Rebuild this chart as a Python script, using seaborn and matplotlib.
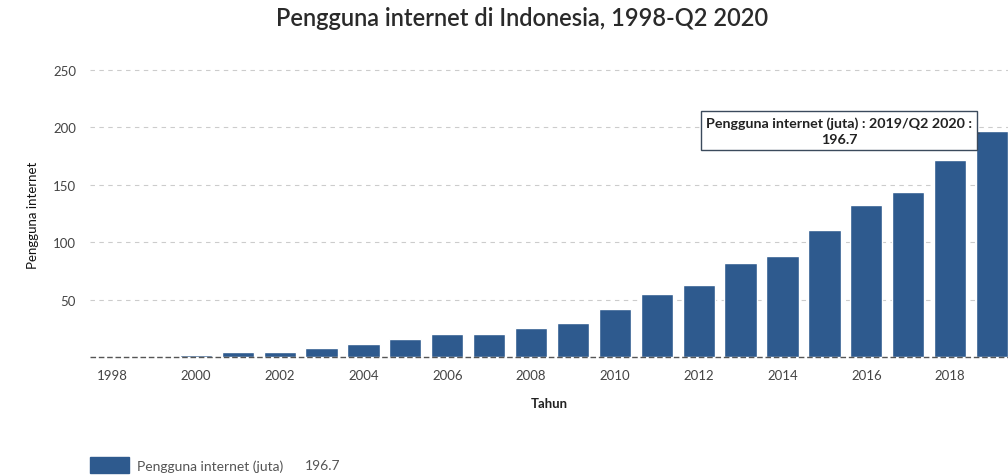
import matplotlib
matplotlib.use("Agg")
import matplotlib.pyplot as plt
import seaborn as sns
import pandas as pd
from matplotlib.patches import Patch

years = [1998, 1999, 2000, 2001, 2002, 2003, 2004, 2005, 2006, 2007, 2008,
         2009, 2010, 2011, 2012, 2013, 2014, 2015, 2016, 2017, 2018, 2019]
users = [0.5, 1.0, 2.0, 4.2, 4.5, 8.0, 11.2, 16.0, 20.0, 20.0, 25.0,
         30.0, 42.0, 55.0, 63.0, 82.0, 88.1, 110.2, 132.7, 143.3, 171.2, 196.7]
yticks = [50, 100, 150, 200, 250]
title = "Pengguna internet di Indonesia, 1998-Q2 2020"
ylabel = "Pengguna internet"
xlabel = "Tahun"
series_name = "Pengguna internet (juta)"
tooltip = "Pengguna internet (juta) : 2019/Q2 2020 :\n196.7"

BAR = "#2e5a8e"

sns.set_theme(style="white")
plt.rcParams['font.family'] = ['Lato', 'DejaVu Sans']

df = pd.DataFrame({"Tahun": [str(y) for y in years], "users": users})

fig = plt.figure(figsize=(10.08, 4.77), dpi=100)
W, H = 1008, 477
left, right = 90 / W, 1.0
bottom_px, top_px = 358, 59.5
ax = fig.add_axes([left, 1 - bottom_px / H, right - left, (bottom_px - top_px) / H])

sns.barplot(data=df, x="Tahun", y="users", color=BAR, width=0.77,
            saturation=1, ax=ax, zorder=3)

ax.set_xlim(-0.525, 21.38)
ax.set_ylim(0, 260)
ax.set_yticks(yticks)
ax.set_yticklabels([str(v) for v in yticks], fontsize=9.5, color="#444444")
xt = list(range(0, len(years), 2))
ax.set_xticks(xt)
ax.set_xticklabels([str(years[i]) for i in xt], fontsize=9.5, color="#444444")
ax.tick_params(axis="x", length=0, pad=9)
ax.tick_params(axis="y", length=0, pad=10)

for v in yticks:
    ax.axhline(v, color="#cccccc", lw=0.8, ls=(0, (4, 4)), zorder=1)

for s in ["top", "right", "left", "bottom"]:
    ax.spines[s].set_visible(False)
ax.axhline(0, color="#555555", lw=1.0, ls=(0, (4, 2)), zorder=4, clip_on=False)

ax.set_xlabel(xlabel, fontsize=9.5, fontweight="bold", color="#222222", labelpad=11)
ax.set_ylabel("")
fig.text(33 / W, 1 - 215 / H, ylabel, rotation=90, ha="center", va="center",
         fontsize=9.5, color="#111111",
         family=["Liberation Sans Narrow", "Lato", "DejaVu Sans"])

fig.text(522 / W, 1 - 19 / H, title, ha="center", va="center",
         fontsize=17, fontweight="semibold", color="#2a2a2a")

# tooltip on the last bar
ax.annotate(tooltip, xy=(len(years) - 1 - 0.3, users[-1] - 2),
            xytext=(839 / W, 1 - 131.5 / H), textcoords="figure fraction",
            ha="center", va="center", fontsize=10.3, fontweight="bold",
            color="#222222", linespacing=1.35, zorder=6,
            bbox=dict(boxstyle="square,pad=0.38", fc="white", ec="#3b4a5c", lw=1.0),
            arrowprops=dict(arrowstyle="-", color="#3b4a5c", lw=1.0, shrinkA=0, shrinkB=0))

# legend at bottom-left
leg_handles = [Patch(facecolor=BAR, edgecolor=BAR)]
leg = fig.legend(leg_handles, [series_name], loc="center left",
                 bbox_to_anchor=(90 / W, 1 - 466 / H), frameon=False,
                 fontsize=10, handlelength=2.8, handleheight=1.3,
                 handletextpad=0.6, borderaxespad=0, borderpad=0)
for t in leg.get_texts():
    t.set_color("#555555")
fig.text(305 / W, 1 - 466 / H, f"{users[-1]}", ha="left", va="center",
         fontsize=10, color="#555555")

fig.savefig("out.png", dpi=100, facecolor="white")
